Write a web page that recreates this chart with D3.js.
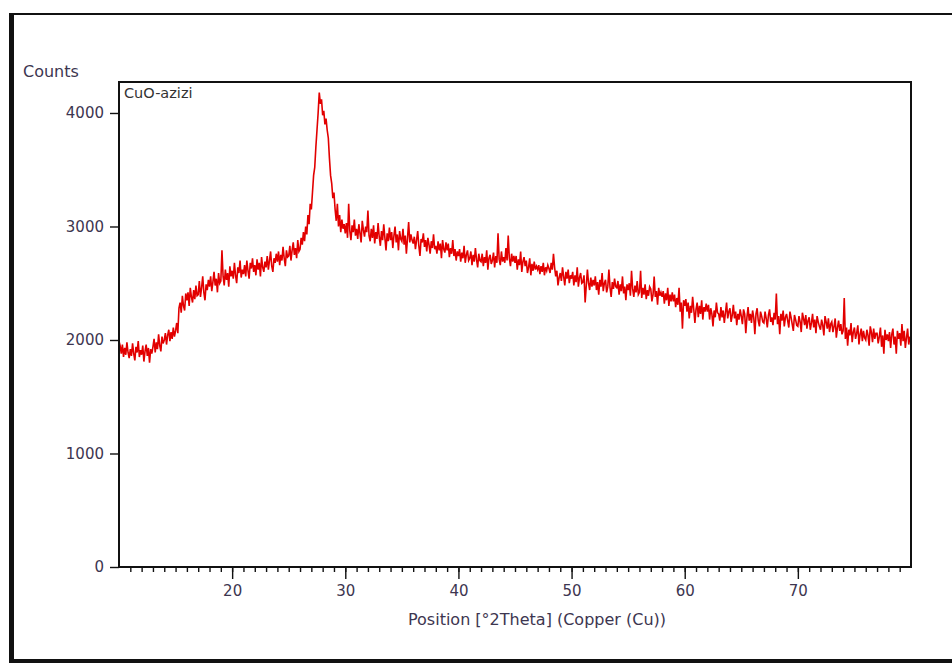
<!DOCTYPE html>
<html>
<head>
<meta charset="utf-8">
<script src="https://d3js.org/d3.v7.min.js"></script>
<style>
  body { margin: 0; background: #fff; }
  text { font-family: "DejaVu Sans", Verdana, sans-serif; }
</style>
</head>
<body>
<svg width="952" height="663"></svg>
<script>
    // scan settings (deg 2theta)
    var startAngle = 10.0,
        stepSize = 0.1;

    // counts, one row per degree (10 steps of 0.1)
    var counts = [
        1990, 1950, 1880, 1960, 1850, 1930, 1870, 1980, 1890, 1840,
        1920, 1860, 1970, 1880, 1820, 1940, 1890, 1990, 1850, 1910,
        1870, 1950, 1810, 1900, 1960, 1860, 1930, 1800, 1920, 1880,
        1940, 2010, 1890, 1980, 1920, 2050, 1950, 1900, 2030, 1970,
        2000, 2060, 1960, 2040, 2090, 1990, 2070, 2010, 2110, 2030,
        2080, 2150, 2060, 2280, 2330, 2240, 2390, 2300, 2260, 2410,
        2350, 2420, 2300, 2460, 2380, 2330, 2440, 2360, 2480, 2390,
        2400, 2520, 2380, 2460, 2560, 2420, 2350, 2490, 2440, 2530,
        2470, 2560, 2430, 2510, 2600, 2480, 2540, 2420, 2590, 2500,
        2520, 2790, 2560, 2480, 2620, 2530, 2590, 2470, 2650, 2560,   // 19
        2610, 2540, 2680, 2570, 2500, 2640, 2590, 2700, 2550, 2620,
        2580, 2660, 2560, 2700, 2610, 2540, 2680, 2630, 2720, 2600,
        2660, 2570, 2710, 2620, 2680, 2560, 2730, 2640, 2600, 2690,
        2640, 2740, 2620, 2700, 2780, 2650, 2600, 2720, 2680, 2760,
        2690, 2780, 2660, 2750, 2700, 2820, 2720, 2650, 2790, 2730,
        2740, 2830, 2700, 2790, 2860, 2750, 2810, 2720, 2880, 2780,
        2800, 2900, 2840, 2950, 2870, 3000, 2930, 3100, 3020, 3200,
        3150, 3300, 3450, 3520, 3700, 3850, 4000, 4180, 4080, 4120,   // 27 peak
        3980, 4020, 3900, 3950, 3850, 3780, 3600, 3450, 3380, 3250,
        3300, 3150, 3050, 3200, 3000, 3100, 2950, 3060, 2980, 3020,   // 29
        2940, 3030, 2900, 3200, 2960, 2880, 3010, 2950, 3060, 2920,
        2980, 2890, 3020, 2940, 2860, 3050, 2970, 2910, 3000, 2950,
        3140, 2920, 2870, 2980, 2900, 3010, 2850, 2950, 2890, 3030,
        2910, 2830, 2960, 2880, 3020, 2900, 2790, 2940, 2870, 2990,
        2880, 2950, 2810, 2920, 3000, 2860, 2930, 2790, 2960, 2890,
        2870, 2980, 2840, 2920, 2760, 2900, 3040, 2860, 2930, 2880,
        2850, 2910, 2800, 2880, 2960, 2830, 2740, 2890, 2860, 2940,
        2820, 2880, 2780, 2900, 2840, 2760, 2870, 2810, 2930, 2800,
        2830, 2760, 2870, 2790, 2850, 2720, 2880, 2800, 2770, 2860,
        2790, 2850, 2730, 2810, 2760, 2880, 2740, 2800, 2700, 2780,   // 39
        2740, 2800, 2690, 2770, 2720, 2830, 2680, 2750, 2790, 2700,
        2720, 2780, 2660, 2750, 2690, 2810, 2710, 2640, 2760, 2700,
        2690, 2760, 2650, 2730, 2680, 2790, 2620, 2720, 2750, 2670,
        2700, 2770, 2640, 2740, 2680, 2940, 2710, 2660, 2780, 2690,
        2730, 2680, 2810, 2700, 2920, 2720, 2650, 2760, 2690, 2740,
        2680, 2740, 2620, 2710, 2660, 2780, 2600, 2690, 2730, 2650,
        2700, 2590, 2640, 2720, 2570, 2670, 2610, 2690, 2620, 2650,
        2620, 2660, 2580, 2650, 2600, 2680, 2570, 2640, 2610, 2660,
        2630, 2590, 2680, 2620, 2760, 2640, 2560, 2610, 2480, 2550,
        2590, 2520, 2640, 2560, 2480, 2600, 2540, 2620, 2500, 2570,   // 49
        2540, 2600, 2480, 2570, 2510, 2640, 2470, 2550, 2590, 2500,
        2510, 2570, 2330, 2480, 2620, 2500, 2440, 2550, 2470, 2530,
        2480, 2560, 2440, 2510, 2400, 2530, 2470, 2590, 2430, 2500,
        2530, 2420, 2470, 2620, 2460, 2380, 2510, 2450, 2540, 2470,
        2460, 2520, 2400, 2490, 2430, 2560, 2410, 2470, 2350, 2490,
        2440, 2500, 2390, 2610, 2450, 2380, 2480, 2420, 2520, 2400,
        2420, 2610, 2370, 2460, 2400, 2490, 2360, 2440, 2390, 2470,
        2450, 2340, 2400, 2560, 2380, 2430, 2310, 2460, 2390, 2420,
        2380, 2430, 2320, 2410, 2350, 2460, 2300, 2400, 2340, 2420,
        2340, 2400, 2290, 2370, 2310, 2460, 2250, 2330, 2100, 2350,   // 59
        2300, 2360, 2250, 2330, 2190, 2300, 2240, 2380, 2270, 2150,
        2270, 2330, 2200, 2300, 2230, 2350, 2180, 2290, 2250, 2320,
        2250, 2310, 2180, 2280, 2230, 2120, 2260, 2200, 2330, 2240,
        2230, 2170, 2290, 2200, 2260, 2150, 2240, 2330, 2190, 2250,
        2280, 2160, 2220, 2310, 2190, 2250, 2130, 2230, 2180, 2270,
        2210, 2140, 2270, 2230, 2060, 2200, 2290, 2170, 2230, 2150,
        2260, 2200, 2050, 2230, 2280, 2170, 2120, 2250, 2210, 2160,
        2150, 2250, 2190, 2110, 2220, 2270, 2160, 2200, 2130, 2240,
        2180, 2410, 2140, 2210, 2050, 2230, 2170, 2260, 2120, 2200,
        2230, 2170, 2110, 2250, 2200, 2140, 2080, 2220, 2180, 2130,   // 69
        2120, 2210, 2160, 2070, 2240, 2190, 2130, 2220, 2100, 2170,
        2200, 2090, 2150, 2230, 2110, 2180, 2060, 2210, 2160, 2120,
        2090, 2180, 2130, 2040, 2210, 2160, 2100, 2190, 2070, 2140,
        2160, 2070, 2120, 2190, 2020, 2110, 2170, 2080, 2140, 2050,
        2080, 2370, 2010, 2110, 1950, 2090, 2040, 2150, 1980, 2070,
        2110, 2010, 2060, 2130, 1960, 2050, 2100, 1990, 2080, 2020,
        2000, 2090, 2040, 1950, 2120, 2070, 1980, 2100, 2010, 2060,
        2060, 1970, 2030, 2110, 1940, 2040, 1880, 2090, 2000, 2050,
        1990, 2070, 1930, 2050, 2100, 1960, 2030, 1880, 2080, 2010,
        2060, 1950, 2140, 1990, 2080, 1930, 2020, 2100, 1960, 2030    // 79
    ];

    var xMajorTicks = [20, 30, 40, 50, 60, 70],
        xMinorTicks = d3.range(11, 80),
        yTicks = [0, 1000, 2000, 3000, 4000];

    var sampleName = "CuO-azizi",
        yTitle = "Counts",
        xTitle = "Position [°2Theta] (Copper (Cu))";

    var data = counts.map(function(c, i) {
        return {x: startAngle + i * stepSize, y: c};
    });

    var svg = d3.select("svg"),
        margin = {top: 82, right: 41, bottom: 96, left: 119},
        width = 952 - margin.left - margin.right,
        height = 663 - margin.top - margin.bottom,
        labelColor = "#3d3650";

    // outer frame of the screenshot
    svg.append("rect").attr("x", 9).attr("y", 13).attr("width", 5).attr("height", 650).attr("fill", "#111");
    svg.append("rect").attr("x", 9).attr("y", 13).attr("width", 943).attr("height", 2).attr("fill", "#111");
    svg.append("rect").attr("x", 9).attr("y", 659).attr("width", 943).attr("height", 4).attr("fill", "#111");

    var g = svg.append("g").attr("transform", "translate(" + margin.left + "," + margin.top + ")");

    var xScale = d3.scaleLinear().domain([10, 80]).range([0, width]),
        yScale = d3.scaleLinear().domain([0, 4273]).range([height, 0]);

    // minor x ticks
    g.append("g")
        .attr("class", "x minor")
        .attr("transform", "translate(0," + height + ")")
        .call(d3.axisBottom(xScale).tickValues(xMinorTicks).tickSize(5).tickFormat(""))
        .call(function(a) { a.select(".domain").remove(); });

    // major x ticks
    var xAxis = g.append("g")
        .attr("class", "x axis")
        .attr("transform", "translate(0," + height + ")")
        .call(d3.axisBottom(xScale).tickValues(xMajorTicks).tickSize(12).tickPadding(3).tickFormat(d3.format("d")));
    xAxis.select(".domain").remove();

    var yAxis = g.append("g")
        .attr("class", "y axis")
        .call(d3.axisLeft(yScale).tickValues(yTicks).tickSize(9).tickPadding(6).tickFormat(d3.format("d")));
    yAxis.select(".domain").remove();

    g.selectAll(".tick line").attr("stroke", "#111").attr("stroke-width", 1.4);
    g.selectAll(".tick text")
        .attr("fill", labelColor)
        .style("font-size", "15px");
    svg.selectAll(".x.axis .tick text").attr("dy", "0.9em");

    // clip for the trace
    g.append("clipPath").attr("id", "plotClip")
        .append("rect").attr("width", width).attr("height", height);

    var line = d3.line()
        .x(function(d) { return xScale(d.x); })
        .y(function(d) { return yScale(d.y); });

    g.append("path")
        .datum(data)
        .attr("clip-path", "url(#plotClip)")
        .attr("fill", "none")
        .attr("stroke", "#e20000")
        .attr("stroke-width", 1.6)
        .attr("stroke-linejoin", "miter")
        .attr("d", line);

    // plot frame
    g.append("rect")
        .attr("width", width)
        .attr("height", height)
        .attr("fill", "none")
        .attr("stroke", "#111")
        .attr("stroke-width", 2);

    g.append("text")
        .attr("x", 5)
        .attr("y", 16)
        .attr("fill", "#333")
        .style("font-size", "14.5px")
        .text(sampleName);

    svg.append("text")
        .attr("x", 23)
        .attr("y", 77)
        .attr("fill", labelColor)
        .style("font-size", "16px")
        .text(yTitle);

    svg.append("text")
        .attr("x", 537)
        .attr("y", 625)
        .attr("text-anchor", "middle")
        .attr("fill", labelColor)
        .style("font-size", "16px")
        .text(xTitle);
</script>
</body>
</html>
